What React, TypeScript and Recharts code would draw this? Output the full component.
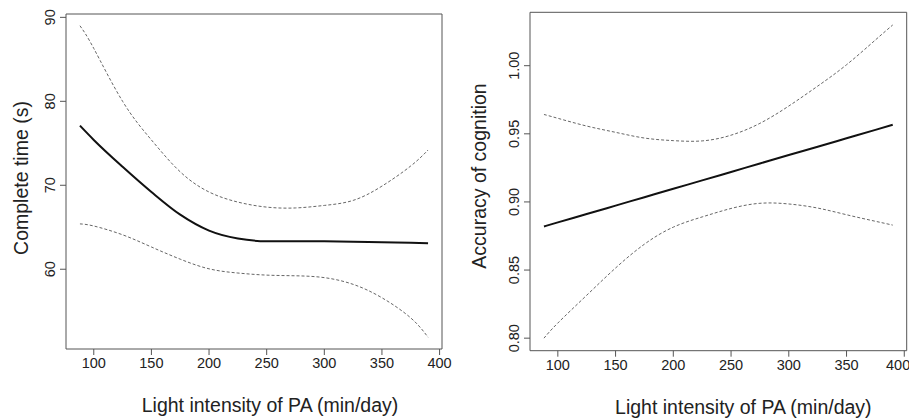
import { LineChart, Line, XAxis, YAxis, ReferenceArea } from "recharts";

// Light intensity PA (min/day), shared x grid for both panels
const lightPA = [88, 100, 125, 150, 175, 200, 225, 250, 275, 300, 325, 350, 375, 390];

// left panel: complete time (s)
const timeFit = [77.1, 75.4, 72.2, 69.2, 66.5, 64.6, 63.65, 63.34, 63.33, 63.32, 63.28, 63.2, 63.15, 63.1];
const timeUpper = [89.0, 86.3, 80.0, 75.4, 71.6, 69.2, 68.0, 67.4, 67.3, 67.6, 68.2, 69.9, 72.3, 74.2];
const timeLower = [65.4, 65.15, 64.1, 62.65, 61.2, 60.05, 59.55, 59.3, 59.22, 59.0, 58.2, 56.6, 54.2, 51.9];

// right panel: accuracy of cognition
const accFit = [0.882, 0.885, 0.8911, 0.8973, 0.9035, 0.9097, 0.9158, 0.922, 0.9282, 0.9344, 0.9405, 0.9467, 0.9529, 0.9566];
const accUpper = [0.9642, 0.9614, 0.9557, 0.9511, 0.9469, 0.945, 0.9448, 0.949, 0.9577, 0.9704, 0.985, 1.0007, 1.0189, 1.0299];
const accLower = [0.8, 0.8111, 0.8315, 0.8515, 0.869, 0.8815, 0.889, 0.8952, 0.899, 0.8985, 0.8955, 0.8906, 0.8858, 0.883];

const xTicks = [100, 150, 200, 250, 300, 350, 400];
const timeTicks = [60, 70, 80, 90];
const accTicks = [0.8, 0.85, 0.9, 0.95, 1.0];

const xDomain: [number, number] = [75.9, 402.1];
const FONT = "'Liberation Sans', Arial, Helvetica, sans-serif";
const TEXT = "#222";
const BOX = "#555";

type PanelProps = {
  left: number;
  width: number;
  margin: { top: number; right: number; bottom: number; left: number };
  fit: number[];
  upper: number[];
  lower: number[];
  yDomain: [number, number];
  yTicks: number[];
  yFormat: (v: number) => string;
  yTitle: string;
  yTitleX: number;
  yTitleDy: number;
  xTitleDx: number;
};

function Panel(p: PanelProps) {
  const data = lightPA.map((x, i) => ({
    x,
    fit: p.fit[i],
    upper: p.upper[i],
    lower: p.lower[i],
  }));

  const yTick = (t: any) => {
    const cx = t.x - 8;
    return (
      <text
        x={cx}
        y={t.y}
        transform={`rotate(-90 ${cx} ${t.y})`}
        textAnchor="middle"
        dominantBaseline="central"
        fontSize={14.5}
        fill={TEXT}
      >
        {p.yFormat(t.payload.value)}
      </text>
    );
  };

  return (
    <div style={{ position: "absolute", left: p.left, top: 0 }}>
      <LineChart width={p.width} height={418} data={data} margin={p.margin}>
        <XAxis
          type="number"
          dataKey="x"
          domain={xDomain}
          ticks={xTicks}
          allowDataOverflow
          axisLine={false}
          tickLine={{ stroke: BOX }}
          tickSize={6}
          tickMargin={3}
          height={60}
          tick={{ fontSize: 14.5, fill: TEXT }}
          label={{
            content: (lp: any) => {
              const vb = lp.viewBox;
              return (
                <text
                  x={vb.x + vb.width / 2 + p.xTitleDx}
                  y={vb.y + 63}
                  textAnchor="middle"
                  fontSize={19.5}
                  fill={TEXT}
                >
                  Light intensity of PA (min/day)
                </text>
              );
            },
          }}
        />
        <YAxis
          type="number"
          domain={p.yDomain}
          ticks={p.yTicks}
          allowDataOverflow
          axisLine={false}
          tickLine={{ stroke: BOX }}
          tickSize={6}
          tickMargin={2}
          width={60}
          tick={yTick}
          label={{
            content: (lp: any) => {
              const vb = lp.viewBox;
              const cy = vb.y + vb.height / 2 + p.yTitleDy;
              return (
                <text
                  x={p.yTitleX}
                  y={cy}
                  transform={`rotate(-90 ${p.yTitleX} ${cy})`}
                  textAnchor="middle"
                  fontSize={19.5}
                  fill={TEXT}
                >
                  {p.yTitle}
                </text>
              );
            },
          }}
        />
        <ReferenceArea
          x1={xDomain[0]}
          x2={xDomain[1]}
          y1={p.yDomain[0]}
          y2={p.yDomain[1]}
          fill="#fff"
          fillOpacity={0}
          stroke={BOX}
          strokeWidth={1}
        />
        <Line
          type="natural"
          dataKey="upper"
          stroke="#666"
          strokeWidth={1}
          strokeDasharray="3 2"
          dot={false}
          isAnimationActive={false}
        />
        <Line
          type="natural"
          dataKey="lower"
          stroke="#666"
          strokeWidth={1}
          strokeDasharray="3 2"
          dot={false}
          isAnimationActive={false}
        />
        <Line
          type="monotone"
          dataKey="fit"
          stroke="#111"
          strokeWidth={2}
          dot={false}
          isAnimationActive={false}
        />
      </LineChart>
    </div>
  );
}

export default function App() {
  return (
    <div
      style={{
        position: "absolute",
        left: 0,
        top: 0,
        width: 909,
        height: 418,
        overflow: "hidden",
        background: "#fff",
        fontFamily: FONT,
      }}
    >
      <Panel
        left={0}
        width={455}
        margin={{ top: 14, right: 13, bottom: 9, left: 6 }}
        fit={timeFit}
        upper={timeUpper}
        lower={timeLower}
        yDomain={[50.5, 90.4]}
        yTicks={timeTicks}
        yFormat={(v) => String(v)}
        yTitle="Complete time (s)"
        yTitleX={28}
        yTitleDy={-3.5}
        xTitleDx={16}
      />
      <Panel
        left={455}
        width={454}
        margin={{ top: 12.3, right: 2.3, bottom: 7.3, left: 15 }}
        fit={accFit}
        upper={accUpper}
        lower={accLower}
        yDomain={[0.7908, 1.0392]}
        yTicks={accTicks}
        yFormat={(v) => v.toFixed(2)}
        yTitle="Accuracy of cognition"
        yTitleX={31}
        yTitleDy={-5.5}
        xTitleDx={25}
      />
    </div>
  );
}
